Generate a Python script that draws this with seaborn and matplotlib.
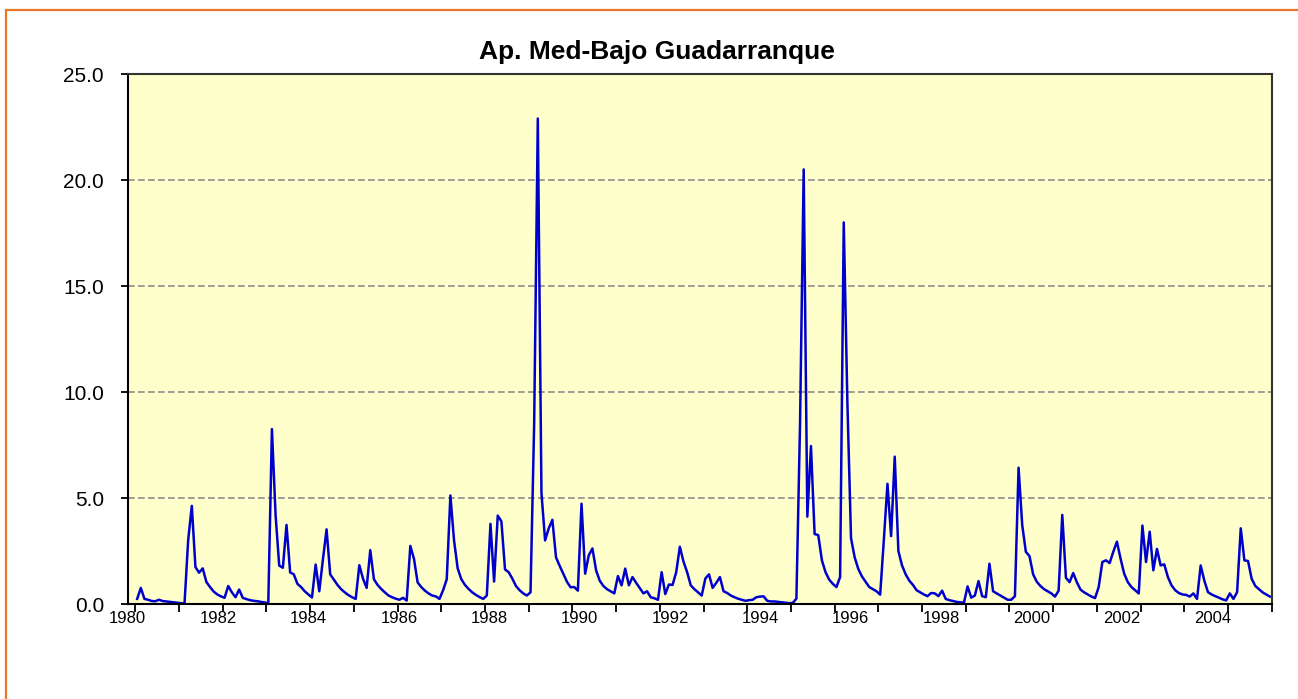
import numpy as np
import pandas as pd
import seaborn as sns
import matplotlib.pyplot as plt
from matplotlib.patches import Rectangle

plt.rcParams['font.family'] = ['Liberation Sans', 'DejaVu Sans']

# monthly values, Jan 1980 - Dec 2005
q_1980_84 = [0.24, 0.76, 0.24, 0.2, 0.14, 0.13, 0.2, 0.14, 0.12, 0.1, 0.08, 0.06,
             0.04, 0.02, 3.0, 4.63, 1.74, 1.48, 1.68, 1.04, 0.8, 0.59, 0.45, 0.36,
             0.29, 0.85, 0.55, 0.32, 0.68, 0.29, 0.23, 0.18, 0.15, 0.13, 0.1, 0.07,
             0.04, 8.25, 4.2, 1.81, 1.71, 3.73, 1.49, 1.4, 0.95, 0.8, 0.6, 0.45,
             0.31, 1.86, 0.6, 2.1, 3.52, 1.4, 1.15, 0.9, 0.7, 0.55, 0.42, 0.32]
q_1985_89 = [0.24, 1.83, 1.2, 0.76, 2.54, 1.17, 0.9, 0.71, 0.55, 0.4, 0.32, 0.25,
             0.2, 0.29, 0.16, 2.74, 2.13, 1.02, 0.8, 0.63, 0.5, 0.4, 0.36, 0.24,
             0.65, 1.17, 5.12, 3.0, 1.68, 1.17, 0.9, 0.71, 0.55, 0.43, 0.33, 0.24,
             0.4, 3.78, 1.06, 4.17, 3.9, 1.63, 1.5, 1.2, 0.85, 0.65, 0.5, 0.4,
             0.55, 8.5, 22.9, 5.24, 3.0, 3.57, 3.97, 2.2, 1.8, 1.43, 1.05, 0.79]
q_1990_94 = [0.8, 0.63, 4.73, 1.43, 2.3, 2.62, 1.59, 1.1, 0.85, 0.7, 0.6, 0.5,
             1.32, 0.88, 1.67, 0.88, 1.27, 1.0, 0.75, 0.5, 0.6, 0.32, 0.27, 0.2,
             1.5, 0.47, 0.92, 0.9, 1.5, 2.7, 2.0, 1.5, 0.88, 0.7, 0.55, 0.4,
             1.2, 1.4, 0.76, 1.0, 1.27, 0.6, 0.52, 0.4, 0.32, 0.25, 0.2, 0.15,
             0.18, 0.2, 0.32, 0.35, 0.36, 0.15, 0.12, 0.12, 0.1, 0.08, 0.06, 0.04]
q_1995_99 = [0.05, 0.25, 8.5, 20.5, 4.12, 7.45, 3.3, 3.25, 2.06, 1.5, 1.15, 0.95,
             0.8, 1.27, 18.0, 9.5, 3.1, 2.2, 1.65, 1.3, 1.05, 0.8, 0.7, 0.6,
             0.44, 3.0, 5.67, 3.2, 6.95, 2.5, 1.82, 1.4, 1.1, 0.9, 0.65, 0.55,
             0.45, 0.37, 0.52, 0.5, 0.37, 0.63, 0.24, 0.18, 0.14, 0.1, 0.08, 0.06,
             0.83, 0.3, 0.4, 1.08, 0.37, 0.32, 1.9, 0.6, 0.5, 0.4, 0.3, 0.2]
q_2000_05 = [0.2, 0.37, 6.43, 3.73, 2.46, 2.26, 1.4, 1.05, 0.85, 0.7, 0.6, 0.5,
             0.35, 0.63, 4.2, 1.24, 1.03, 1.46, 1.03, 0.68, 0.55, 0.45, 0.35, 0.28,
             0.8, 1.98, 2.06, 1.93, 2.46, 2.94, 2.14, 1.43, 1.03, 0.8, 0.65, 0.5,
             3.7, 1.98, 3.41, 1.59, 2.6, 1.82, 1.87, 1.27, 0.88, 0.65, 0.52, 0.45,
             0.43, 0.35, 0.5, 0.24, 1.82, 1.1, 0.56, 0.45, 0.37, 0.3, 0.22, 0.17,
             0.5, 0.24, 0.56, 3.57, 2.06, 2.03, 1.19, 0.85, 0.7, 0.55, 0.45, 0.35]

year_labels = ['1980', '1982', '1984', '1986', '1988', '1990', '1992',
               '1994', '1996', '1998', '2000', '2002', '2004']
y_ticks = [0, 5, 10, 15, 20, 25]

caudal = np.concatenate([q_1980_84, q_1985_89, q_1990_94, q_1995_99, q_2000_05])
n = len(caudal)
df = pd.DataFrame({'mes': np.arange(n) + 0.5, 'caudal': caudal})

fig = plt.figure(figsize=(12.98, 6.99), dpi=100)
ax = fig.add_axes([127.7 / 1298, 1 - 604 / 699, 1144 / 1298, 530 / 699])
ax.set_facecolor('#FFFFCC')

sns.lineplot(data=df, x='mes', y='caudal', color='#0000CC', linewidth=1.8, ax=ax)

ax.set_xlim(0, n)
ax.set_ylim(0, 25)
ax.set_xlabel('')
ax.set_ylabel('')

# y axis
ax.set_yticks(y_ticks)
ax.set_yticklabels([f'{v:.1f}' for v in y_ticks])
ax.tick_params(axis='y', direction='out', length=5, width=1.3, labelsize=15, pad=12)
ax.yaxis.grid(True, linestyle=(0, (4, 2)), color='#8C8C8C', linewidth=1.2)
ax.set_axisbelow(True)

# x axis: yearly tick marks, labels every two years (excel spacing drifts a bit)
ax.set_xticks(np.arange(0, n + 1, 12), minor=True)
ax.set_xticks(np.arange(len(year_labels)) * 24 * 1.034 - 2.1)
ax.set_xticklabels(year_labels)
ax.tick_params(axis='x', which='minor', direction='out', length=6, width=1.3)
ax.tick_params(axis='x', which='major', length=0, labelsize=12, pad=5)

for s in ['left', 'bottom']:
    ax.spines[s].set_color('black')
    ax.spines[s].set_linewidth(1.5)
for s in ['top', 'right']:
    ax.spines[s].set_color('#333333')
    ax.spines[s].set_linewidth(1.5)

fig.text(657 / 1298, 1 - 52 / 699, 'Ap. Med-Bajo Guadarranque', ha='center', va='center',
         fontsize=19, fontweight='bold')

# orange chart frame (cropped on the right and bottom)
fig.add_artist(Rectangle((6 / 1298, -0.5), 1.5, 1.5 - 10 / 699, transform=fig.transFigure,
                         fill=False, edgecolor='#E8782A', linewidth=1.6))

fig.savefig('out.png', dpi=100)
